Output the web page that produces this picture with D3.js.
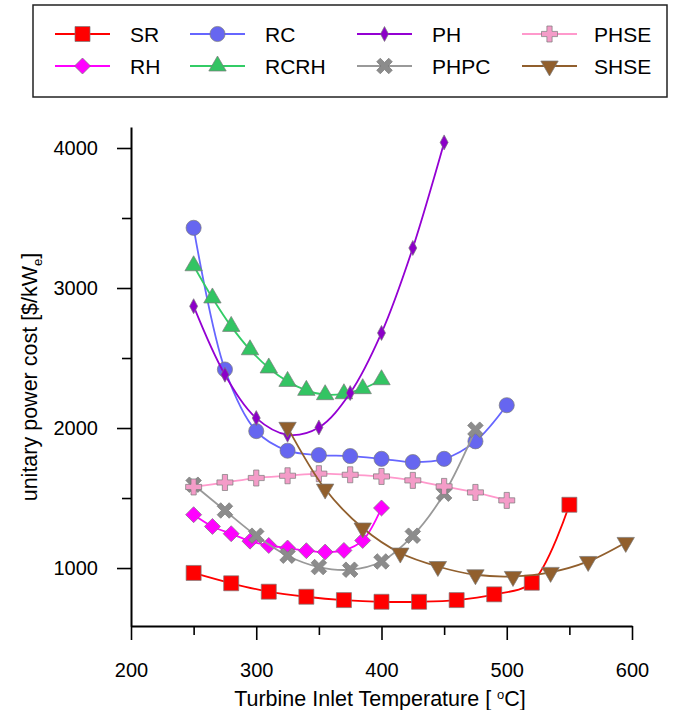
<!DOCTYPE html>
<head>
  <style>
    body { margin: 0; background: #fff; }
    text { font-family: "Liberation Sans", Arial, sans-serif; fill: #000; }
  </style>
<title>Unitary power cost vs turbine inlet temperature</title>
</head>

<body>
  <script type="text/javascript" src="https://cdn.jsdelivr.net/npm/d3@7/dist/d3.min.js"></script>

  <script type="text/javascript">
    // data
    var srT   = [250, 280, 310, 340, 370, 400, 430, 460, 490, 520, 550];
    var srV   = [965, 891, 831, 795, 771, 759, 759, 771, 812, 895, 1452];
    var rhT   = [250, 265, 280, 295, 310, 325, 340, 355, 370, 385, 400];
    var rhV   = [1381, 1297, 1245, 1192, 1161, 1143, 1124, 1114, 1126, 1197, 1429];
    var rcT   = [250, 275, 300, 325, 350, 375, 400, 425, 450, 475, 500];
    var rcV   = [3430, 2418, 1978, 1838, 1807, 1800, 1780, 1757, 1780, 1905, 2163];
    var rcrhT = [250, 265, 280, 295, 310, 325, 340, 355, 370, 385, 400];
    var rcrhV = [3159, 2929, 2726, 2559, 2429, 2333, 2269, 2238, 2245, 2281, 2345];
    var phT   = [250, 275, 300, 325, 350, 375, 400, 425, 450];
    var phV   = [2870, 2381, 2071, 1952, 2004, 2250, 2679, 3286, 4040];
    var phpcT = [250, 275, 300, 325, 350, 375, 400, 425, 450, 475];
    var phpcV = [1595, 1411, 1231, 1088, 1007, 988, 1047, 1231, 1531, 1988];
    var phseT = [250, 275, 300, 325, 350, 375, 400, 425, 450, 475, 500];
    var phseV = [1579, 1611, 1643, 1659, 1674, 1666, 1654, 1626, 1583, 1540, 1483];
    var shseT = [325, 355, 385, 415, 445, 475, 505, 535, 565, 595];
    var shseV = [2005, 1564, 1286, 1107, 1011, 952, 940, 969, 1047, 1183];

    var xTicks = [200, 300, 400, 500, 600];
    var xMinor = [250, 350, 450, 550];
    var yTicks = [1000, 2000, 3000, 4000];
    var yMinor = [1500, 2500, 3500];

    var w = 674;
    var h = 710;

    // marker outlines (centered on 0,0)
    var shapes = {
      square: "M-7.5,-7.5h15v15h-15Z",
      circle: d3.symbol(d3.symbolCircle, 180)(),
      diamond: "M0,-8L8,0L0,8L-8,0Z",
      thin: "M0,-7.5L4,0L0,7.5L-4,0Z",
      triUp: "M0,-10L8.7,5L-8.7,5Z",
      triDown: "M0,10L8.7,-5L-8.7,-5Z",
      plus: "M-2.6,-8H2.6V-2.6H8V2.6H2.6V8H-2.6V2.6H-8V-2.6H-2.6Z",
      cross: "M-2.5,-8.5H2.5V-2.5H8.5V2.5H2.5V8.5H-2.5V2.5H-8.5V-2.5H-2.5Z"
    };

    var series = [
      {name: "SR",   t: srT,   v: srV,   line: "#ff0000", fill: "#ff0000", shape: "square"},
      {name: "RH",   t: rhT,   v: rhV,   line: "#ff00ff", fill: "#ff00ff", shape: "diamond"},
      {name: "RC",   t: rcT,   v: rcV,   line: "#6666ff", fill: "#6666f0", shape: "circle"},
      {name: "RCRH", t: rcrhT, v: rcrhV, line: "#33cc66", fill: "#33c463", shape: "triUp"},
      {name: "PH",   t: phT,   v: phV,   line: "#9400d3", fill: "#8c00c8", shape: "thin"},
      {name: "PHPC", t: phpcT, v: phpcV, line: "#999999", fill: "#8c8c8c", shape: "cross", rot: 45},
      {name: "PHSE", t: phseT, v: phseV, line: "#ff99cc", fill: "#f49cc8", shape: "plus"},
      {name: "SHSE", t: shseT, v: shseV, line: "#915f2d", fill: "#915f2d", shape: "triDown"}
    ];

    var x = d3.scaleLinear().domain([200, 600]).range([131, 632]);
    var y = d3.scaleLinear().domain([586, 4150]).range([626, 127]);

    var svg = d3.select("body")
                .append("svg")
                .attr("width", w)
                .attr("height", h);

    // legend
    var legendOrder = ["SR", "RC", "PH", "PHSE", "RH", "RCRH", "PHPC", "SHSE"];
    var colX = [55, 190, 357, 522];
    var rowY = [34, 66];
    svg.append("rect")
       .attr("x", 33).attr("y", 5)
       .attr("width", 634).attr("height", 92)
       .attr("fill", "none").attr("stroke", "#222").attr("stroke-width", 1.5);

    legendOrder.forEach(function(name, i) {
      var s = series.find(function(d) { return d.name === name; });
      var lx = colX[i % 4], ly = rowY[Math.floor(i / 4)];
      var g = svg.append("g").attr("transform", "translate(" + lx + "," + ly + ")");
      g.append("line").attr("x1", 0).attr("x2", 55).attr("y1", 0).attr("y2", 0)
       .attr("stroke", s.line).attr("stroke-width", 2);
      g.append("path").attr("d", shapes[s.shape])
       .attr("transform", "translate(27.5,0)" + (s.rot ? " rotate(" + s.rot + ")" : ""))
       .attr("fill", s.fill).attr("stroke", "#7a7a7a").attr("stroke-width", 0.7);
      g.append("text").attr("x", i % 4 === 3 ? 72 : 75).attr("y", 0).attr("dy", "0.36em")
       .style("font-size", "21px").text(s.name);
    });

    // axes
    svg.append("g").attr("transform", "translate(131,0)")
       .call(d3.axisLeft(y).tickValues(yTicks).tickSize(14).tickSizeOuter(0)
               .tickPadding(19).tickFormat(d3.format("d")));
    svg.append("g").attr("transform", "translate(131,0)")
       .call(d3.axisLeft(y).tickValues(yMinor).tickSize(9).tickFormat("")).select(".domain").remove();
    svg.append("g").attr("transform", "translate(0,626)")
       .call(d3.axisBottom(x).tickValues(xTicks).tickSize(14).tickSizeOuter(0)
               .tickPadding(23).tickFormat(d3.format("d")));
    svg.append("g").attr("transform", "translate(0,626)")
       .call(d3.axisBottom(x).tickValues(xMinor).tickSize(9).tickFormat("")).select(".domain").remove();

    svg.selectAll(".domain").attr("stroke", "#000").attr("stroke-width", 2);
    svg.selectAll(".tick line").attr("stroke", "#000").attr("stroke-width", 1.6);
    svg.selectAll(".tick text").style("font-size", "20px")
       .style("font-family", "'Liberation Sans', Arial, sans-serif");

    // axis titles
    var xt = svg.append("text").attr("x", 380).attr("y", 706)
       .attr("text-anchor", "middle").style("font-size", "21.5px");
    xt.append("tspan").text("Turbine Inlet Temperature [ ");
    xt.append("tspan").attr("dy", -7).style("font-size", "13px").text("o");
    xt.append("tspan").attr("dy", 7).text("C]");

    var yt = svg.append("text")
       .attr("transform", "translate(37,377) rotate(-90)")
       .attr("text-anchor", "middle").style("font-size", "21.5px");
    yt.append("tspan").text("unitary power cost [$/kW");
    yt.append("tspan").attr("dy", 5).style("font-size", "13px").text("e");
    yt.append("tspan").attr("dy", -5).text("]");

    // curves and markers
    var line = d3.line()
       .x(function(d) { return x(d[0]); })
       .y(function(d) { return y(d[1]); })
       .curve(d3.curveCatmullRom.alpha(0.5));

    series.forEach(function(s) {
      var pts = s.t.map(function(t, i) { return [t, s.v[i]]; });
      svg.append("path").datum(pts)
         .attr("d", line)
         .attr("fill", "none").attr("stroke", s.line).attr("stroke-width", 1.8);
      svg.append("g").selectAll("path")
         .data(pts)
         .enter()
         .append("path")
         .attr("d", shapes[s.shape])
         .attr("transform", function(d) {
           return "translate(" + x(d[0]) + "," + y(d[1]) + ")" + (s.rot ? " rotate(" + s.rot + ")" : "");
         })
         .attr("fill", s.fill).attr("stroke", "#7a7a7a").attr("stroke-width", 0.7);
    });
  </script>
</body>
